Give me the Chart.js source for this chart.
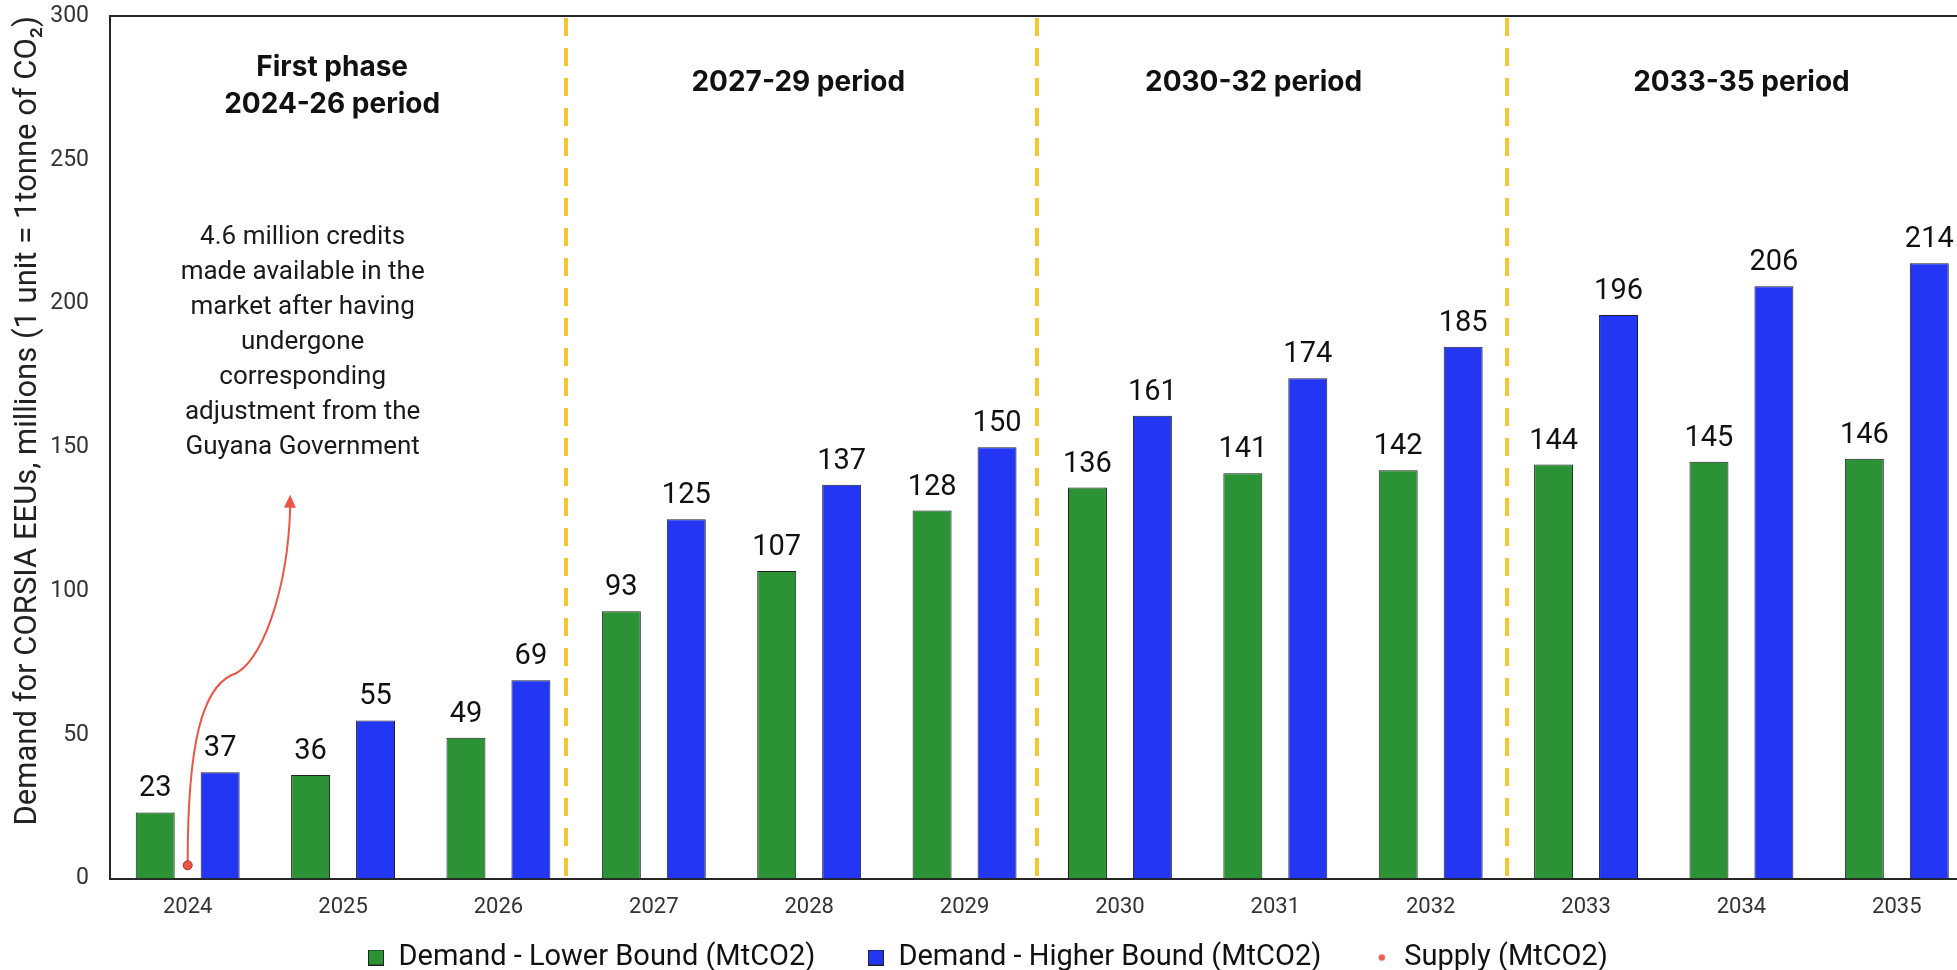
<!DOCTYPE html>
<html>
<head>
<meta charset="utf-8">
<title>CORSIA EEU demand and supply</title>
<script src="https://cdn.jsdelivr.net/npm/chart.js@4.4.1/dist/chart.umd.min.js"></script>
<style>
  html, body { margin: 0; padding: 0; background: #ffffff; overflow: hidden; }
  #wrap { position: absolute; left: 0; top: 0; width: 1980px; height: 982px; }
</style>
</head>
<body>
<div id="wrap"><canvas id="chart" width="1980" height="982"></canvas></div>
<script>
// ---- data ----
const years = ['2024', '2025', '2026', '2027', '2028', '2029', '2030', '2031', '2032', '2033', '2034', '2035'];
const lowerBound = [23, 36, 49, 93, 107, 128, 136, 141, 142, 144, 145, 146];
const higherBound = [37, 55, 69, 125, 137, 150, 161, 174, 185, 196, 206, 214];
const supply = [4.6, null, null, null, null, null, null, null, null, null, null, null];
const yTicks = [0, 50, 100, 150, 200, 250, 300];

// compliance periods: heading lines, where the heading sits and where each period ends (category index units)
const phaseLabels = [['First phase', '2024-26 period'], ['2027-29 period'], ['2030-32 period'], ['2033-35 period']];
const phaseLabelAt = [0.93, 3.93, 6.86, 10.0];
const phaseDividers = [2.436, 5.465, 8.494];

const noteLines = ['4.6 million credits', 'made available in the', 'market after having', 'undergone',
                   'corresponding', 'adjustment from the', 'Guyana Government'];

// ---- styling ----
const GREEN = '#2b9336';
const BLUE = '#2236f4';
const RED = '#ec5646';
const AXIS = '#262626';
const YELLOW = '#f6c532';

function makeIcon(kind) {
  const c = document.createElement('canvas');
  const g = c.getContext('2d');
  if (kind === 'dot') {
    c.width = c.height = 8;
    g.fillStyle = '#e8604f';
    g.beginPath(); g.arc(4, 4, 3.2, 0, Math.PI * 2); g.fill();
  } else {
    c.width = c.height = 16;
    g.fillStyle = kind;
    g.fillRect(0, 0, 16, 16);
    g.strokeStyle = '#222';
    g.lineWidth = 1;
    g.strokeRect(0.5, 0.5, 15, 15);
  }
  return c;
}
// icons per dataset index
const legendIcons = [makeIcon(GREEN), makeIcon(BLUE), makeIcon('dot')];

// pixel x for a fractional category index
function catX(xs, idx) {
  const x0 = xs.getPixelForValue(0);
  const step = xs.getPixelForValue(1) - x0;
  return x0 + idx * step;
}

const decorations = {
  id: 'decorations',
  beforeDatasetsDraw(chart) {
    const { ctx, chartArea: a, scales: { x: xs, y: ys } } = chart;
    ctx.save();
    // frame top edge
    ctx.strokeStyle = AXIS;
    ctx.lineWidth = 2;
    ctx.beginPath();
    ctx.moveTo(a.left, a.top);
    ctx.lineTo(a.right, a.top);
    ctx.stroke();

    // period dividers
    ctx.strokeStyle = YELLOW;
    ctx.lineWidth = 4;
    ctx.setLineDash([18, 12]);
    phaseDividers.forEach(p => {
      const px = Math.round(catX(xs, p));
      ctx.beginPath();
      ctx.moveTo(px, a.top + 2);
      ctx.lineTo(px, a.bottom);
      ctx.stroke();
    });
    ctx.setLineDash([]);

    // period headings
    ctx.fillStyle = '#111';
    ctx.font = 'bold 28px Inter, Roboto, sans-serif';
    ctx.textAlign = 'center';
    ctx.textBaseline = 'middle';
    phaseLabels.forEach((lines, i) => {
      const px = catX(xs, phaseLabelAt[i]);
      if (lines.length === 2) {
        ctx.fillText(lines[0], px, ys.getPixelForValue(282));
        ctx.fillText(lines[1], px, ys.getPixelForValue(282) + 37);
      } else {
        ctx.fillText(lines[0], px, ys.getPixelForValue(277));
      }
    });

    // note about the first issued credits
    ctx.font = '26px Roboto, sans-serif';
    ctx.fillStyle = '#1a1a1a';
    const noteX = catX(xs, 0.74);
    const noteTop = ys.getPixelForValue(223);
    noteLines.forEach((t, i) => ctx.fillText(t, noteX, noteTop + i * 35));

    // curved arrow from the supply point up to the note
    const meta = chart.getDatasetMeta(2);
    const dot = meta.data[0];
    const P = (idx, v) => [catX(xs, idx), ys.getPixelForValue(v)];
    const start = [dot.x, dot.y - 4];
    const c1 = P(0.0, 48), c2 = P(0.1, 66), mid = P(0.28, 70.7);
    const c3 = P(0.47, 73.5), c4 = P(0.645, 100), tip = P(0.66, 133.5);
    const headLen = 13;
    ctx.strokeStyle = RED;
    ctx.fillStyle = RED;
    ctx.lineWidth = 2;
    ctx.beginPath();
    ctx.moveTo(start[0], start[1]);
    ctx.bezierCurveTo(c1[0], c1[1], c2[0], c2[1], mid[0], mid[1]);
    ctx.bezierCurveTo(c3[0], c3[1], c4[0], c4[1], tip[0], tip[1] + headLen - 1);
    ctx.stroke();
    const ang = Math.atan2(tip[1] - c4[1], tip[0] - c4[0]);
    ctx.beginPath();
    ctx.moveTo(tip[0], tip[1]);
    ctx.lineTo(tip[0] - headLen * Math.cos(ang) + 6 * Math.sin(ang), tip[1] - headLen * Math.sin(ang) - 6 * Math.cos(ang));
    ctx.lineTo(tip[0] - headLen * Math.cos(ang) - 6 * Math.sin(ang), tip[1] - headLen * Math.sin(ang) + 6 * Math.cos(ang));
    ctx.closePath();
    ctx.fill();
    ctx.restore();
  },
  afterDatasetsDraw(chart) {
    const { ctx } = chart;
    ctx.save();
    ctx.fillStyle = '#111';
    ctx.font = '29px Roboto, sans-serif';
    ctx.textAlign = 'center';
    ctx.textBaseline = 'alphabetic';
    [0, 1].forEach(di => {
      const ds = chart.data.datasets[di];
      chart.getDatasetMeta(di).data.forEach((bar, i) => {
        ctx.fillText(String(ds.data[i]), bar.x, bar.y - 16);
      });
    });
    ctx.restore();
  }
};

new Chart(document.getElementById('chart'), {
  type: 'bar',
  data: {
    labels: years,
    datasets: [
      {
        label: 'Demand - Lower Bound (MtCO2)',
        data: lowerBound,
        backgroundColor: GREEN,
        borderColor: '#1f1f1f',
        borderWidth: 1,
        categoryPercentage: 0.836,
        barPercentage: 0.6,
        order: 2
      },
      {
        label: 'Demand - Higher Bound (MtCO2)',
        data: higherBound,
        backgroundColor: BLUE,
        borderColor: '#1f1f2f',
        borderWidth: 1,
        categoryPercentage: 0.836,
        barPercentage: 0.6,
        order: 2
      },
      {
        type: 'line',
        label: 'Supply (MtCO2)',
        data: supply,
        showLine: false,
        pointRadius: 4.5,
        pointBackgroundColor: RED,
        pointBorderColor: '#a8301f',
        pointBorderWidth: 1,
        order: 0
      }
    ]
  },
  options: {
    responsive: false,
    animation: false,
    devicePixelRatio: 1,
    layout: { padding: { top: 0, right: 4, left: 0, bottom: 0 } },
    scales: {
      x: {
        grid: { display: false, drawTicks: false },
        border: { display: true, color: AXIS, width: 2 },
        ticks: { font: { family: 'Roboto', size: 22 }, color: '#333', padding: 16 },
        afterFit(s) {
          s.height = 12;
          // the year labels hang below this thin box, so keep them unclipped
          s._computeLabelArea = () => undefined;
        }
      },
      y: {
        min: 0,
        max: 300,
        afterBuildTicks(s) { s.ticks = yTicks.map(v => ({ value: v })); },
        grid: { display: false, drawTicks: false },
        border: { display: true, color: AXIS, width: 2 },
        ticks: { font: { family: 'Roboto', size: 23 }, color: '#333', padding: 21 },
        title: {
          display: true,
          text: 'Demand for CORSIA EEUs, millions (1 unit = 1tonne of CO\u2082)',
          align: 'end',
          font: { family: 'Roboto', size: 31 },
          color: '#222',
          padding: { top: 10, bottom: 0 }
        },
        afterFit(s) {
          s.width = 110;
          s.paddingTop = 16;
          s.paddingBottom = 6;
        }
      }
    },
    plugins: {
      legend: {
        position: 'bottom',
        labels: {
          usePointStyle: true,
          boxWidth: 16,
          boxHeight: 16,
          padding: 52.5,
          color: '#111',
          font: { family: 'Roboto', size: 29 },
          sort: (a, b) => a.datasetIndex - b.datasetIndex,
          generateLabels(chart) {
            const items = Chart.defaults.plugins.legend.labels.generateLabels(chart);
            items.forEach(it => { it.pointStyle = legendIcons[it.datasetIndex]; });
            return items;
          }
        }
      },
      tooltip: { enabled: false }
    }
  },
  plugins: [decorations]
});
</script>
</body>
</html>
